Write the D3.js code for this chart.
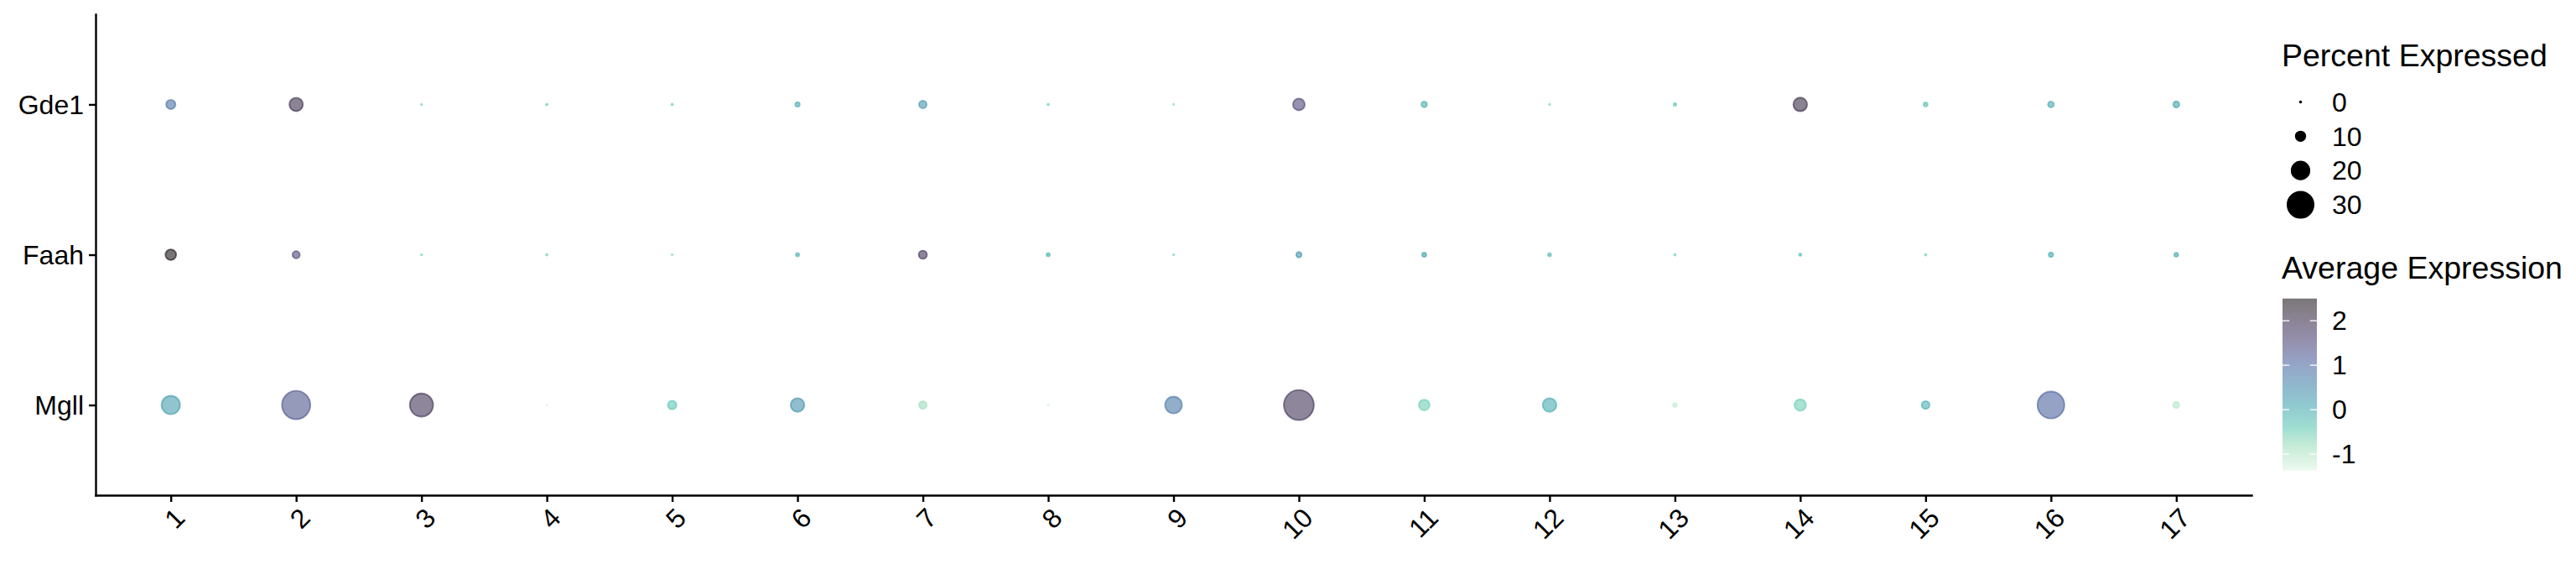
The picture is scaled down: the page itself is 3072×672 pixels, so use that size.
<!DOCTYPE html>
<html>
<head>
<meta charset="utf-8">
<script src="https://cdn.jsdelivr.net/npm/d3@7"></script>
<style>
  body { margin: 0; background: #ffffff; }
  text { font-family: "Liberation Sans", Arial, Helvetica, sans-serif; fill: #000; }
</style>
</head>
<body>
<svg id="chart" width="3072" height="672"></svg>
<script>
// ---------------- data ----------------
const clusters = ["1","2","3","4","5","6","7","8","9","10","11","12","13","14","15","16","17"];
const genes = ["Gde1", "Faah", "Mgll"];

// percent of cells expressing
const pctGde1 = [9.6, 14.7, 0.1, 0.4, 0.4, 3.8, 7.6, 0.3, 0.1, 12.7, 5.2, 0.2, 1.7, 15.0, 3.2, 5.5, 5.8];
const pctFaah = [11.3, 7.2, 0.1, 0.2, 0.05, 2.4, 8.3, 2.4, 0.1, 4.8, 3.5, 2.1, 0.2, 1.4, 0.2, 3.8, 3.2];
const pctMgll = [20.8, 32.8, 26.6, 0.1, 8.9, 15.0, 7.6, 0.3, 18.8, 34.8, 11.3, 15.0, 3.2, 12.3, 7.9, 31.0, 5.8];

// scaled average expression
const avgGde1 = [0.9, 2.0, -0.6, -0.5, -0.5, -0.05, 0.3, -0.5, -0.8, 1.5, -0.1, -0.7, -0.4, 2.1, -0.3, 0.0, 0.1];
const avgFaah = [2.5, 1.5, -0.6, -0.5, -0.7, -0.1, 1.9, -0.1, -0.7, 0.3, 0.1, -0.2, -0.5, -0.3, -0.5, -0.05, 0.0];
const avgMgll = [0.2, 1.3, 1.9, -1.37, -0.4, 0.4, -0.8, -1.3, 0.8, 1.9, -0.5, 0.0, -1.1, -0.5, -0.05, 1.1, -1.0];

// legend breaks
const sizeBreaks = [0, 10, 20, 30];
const colorTicks = [2, 1, 0, -1];
const colorLimits = [-1.37, 2.5];

// palette (mako, light -> dark)
const palette = ["#DEF5E5", "#A0DFB9", "#4FC3AD", "#349EAA", "#357BA2", "#3D5A9A", "#3E356B", "#2D1E3E", "#0B0405"];
const pointAlpha = 0.55;

// ---------------- build ----------------
const pctByGene = { Gde1: pctGde1, Faah: pctFaah, Mgll: pctMgll };
const avgByGene = { Gde1: avgGde1, Faah: avgFaah, Mgll: avgMgll };
const rows = [];
genes.forEach(g => clusters.forEach((c, i) => rows.push({ gene: g, cluster: c, pct: pctByGene[g][i], avg: avgByGene[g][i] })));

const svg = d3.select("#chart");
const plot = { left: 114, right: 2685, top: 17, bottom: 590 };
const smallFont = 32, titleFont = 37.5;

const x = d3.scalePoint().domain(clusters).range([plot.left, plot.right]).padding(0.6);
const y = d3.scalePoint().domain(genes).range([plot.top, plot.bottom]).padding(0.6);

const colorDomain = palette.map((_, i) => colorLimits[0] + i * (colorLimits[1] - colorLimits[0]) / (palette.length - 1));
const color = d3.scaleLinear().domain(colorDomain).range(palette).interpolate(d3.interpolateLab).clamp(true);

// radius (outer edge = r + half stroke)
const strokeW = 1.9;
const radius = d3.scaleLinear().domain([0, 30]).range([1.8 - strokeW / 2, 1.8 - strokeW / 2 + 0.49 * 30]);

// axes
const axisW = 2.4;
const gx = svg.append("g").attr("transform", `translate(0,${plot.bottom})`)
  .call(d3.axisBottom(x).tickSize(8).tickSizeOuter(0));
const gy = svg.append("g").attr("transform", `translate(${plot.left},0)`)
  .call(d3.axisLeft(y).tickSize(8).tickSizeOuter(0).tickPadding(6));

[gx, gy].forEach(g => {
  g.select(".domain").attr("stroke", "#000").attr("stroke-width", axisW).attr("stroke-linecap", "square");
  g.selectAll(".tick line").attr("stroke", "#000").attr("stroke-width", axisW);
  g.selectAll(".tick text").attr("font-size", smallFont).attr("fill", "#000")
    .style("font-family", '"Liberation Sans", Arial, Helvetica, sans-serif');
});
gx.selectAll(".tick text")
  .attr("x", 0).attr("y", 0).attr("dy", "0.71em")
  .attr("text-anchor", "end")
  .attr("transform", "translate(2,13) rotate(-45)");
gy.selectAll(".tick text").attr("dy", "0.35em");

// points
svg.append("g").selectAll("circle").data(rows).join("circle")
  .attr("cx", d => x(d.cluster))
  .attr("cy", d => y(d.gene))
  .attr("r", d => Math.max(0.3, radius(d.pct)))
  .attr("fill", d => color(d.avg))
  .attr("fill-opacity", pointAlpha)
  .attr("stroke", d => color(d.avg))
  .attr("stroke-opacity", pointAlpha)
  .attr("stroke-width", strokeW);

// ---------------- legends ----------------
const legX = 2721;
const lg = svg.append("g");
lg.append("text").attr("x", legX).attr("y", 79).attr("font-size", titleFont).text("Percent Expressed");

const sizeY = d3.scalePoint().domain(sizeBreaks).range([121.5, 244]);
const keyX = 2743.5, labX = 2781;
lg.selectAll("circle.sk").data(sizeBreaks).join("circle").attr("class", "sk")
  .attr("cx", keyX).attr("cy", d => sizeY(d))
  .attr("r", d => Math.max(0.3, radius(d)))
  .attr("fill", "#000").attr("stroke", "#000").attr("stroke-width", strokeW);
lg.selectAll("text.sl").data(sizeBreaks).join("text").attr("class", "sl")
  .attr("x", labX).attr("y", d => sizeY(d)).attr("dy", "0.35em")
  .attr("font-size", smallFont).text(d => d);

lg.append("text").attr("x", legX).attr("y", 332).attr("font-size", titleFont).text("Average Expression");

const bar = { x: 2722, w: 41, top: 355.7, bottom: 560.7 };
const cbY = d3.scaleLinear().domain(colorLimits).range([bar.bottom, bar.top]);
const defs = svg.append("defs");
const grad = defs.append("linearGradient").attr("id", "cbar")
  .attr("x1", 0).attr("y1", 1).attr("x2", 0).attr("y2", 0);
d3.range(0, 1.0001, 0.02).forEach(t => {
  const v = colorLimits[0] + t * (colorLimits[1] - colorLimits[0]);
  grad.append("stop").attr("offset", t).attr("stop-color", color(v)).attr("stop-opacity", pointAlpha);
});
lg.append("rect").attr("x", bar.x).attr("y", bar.top).attr("width", bar.w)
  .attr("height", bar.bottom - bar.top).attr("fill", "url(#cbar)");
const tickLen = 8.2;
colorTicks.forEach(t => {
  const ty = cbY(t);
  lg.append("line").attr("x1", bar.x).attr("x2", bar.x + tickLen).attr("y1", ty).attr("y2", ty)
    .attr("stroke", "#fff").attr("stroke-width", 1.3);
  lg.append("line").attr("x1", bar.x + bar.w - tickLen).attr("x2", bar.x + bar.w).attr("y1", ty).attr("y2", ty)
    .attr("stroke", "#fff").attr("stroke-width", 1.3);
});
lg.selectAll("text.cl").data(colorTicks).join("text").attr("class", "cl")
  .attr("x", labX).attr("y", d => cbY(d)).attr("dy", "0.35em")
  .attr("font-size", smallFont).text(d => d);
</script>
</body>
</html>
